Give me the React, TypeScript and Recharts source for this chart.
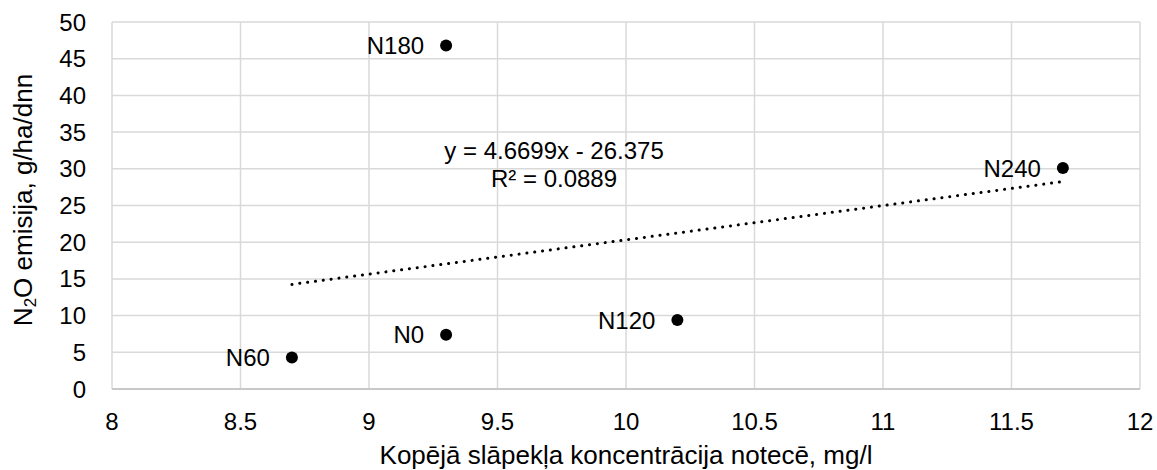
import React from 'react';
import {
  ScatterChart,
  Scatter,
  XAxis,
  YAxis,
  CartesianGrid,
  ReferenceDot
} from 'recharts';

// treatment labels, N concentration (mg/l) and N2O emission (g/ha/day)
const treatments = ['N0', 'N60', 'N120', 'N180', 'N240'];
const concentration = [9.3, 8.7, 10.2, 9.3, 11.7];
const emission = [7.4, 4.3, 9.4, 46.8, 30.1];

// linear trend endpoints
const trendX = [8.7, 11.7];
const trendY = [14.25, 28.26];

const xTicks = [8, 8.5, 9, 9.5, 10, 10.5, 11, 11.5, 12];
const yTicks = [0, 5, 10, 15, 20, 25, 30, 35, 40, 45, 50];

const equationText = 'y = 4.6699x - 26.375';
const rSquaredText = 'R² = 0.0889';

const points = treatments.map((name, i) => ({
  name,
  x: concentration[i],
  y: emission[i]
}));

const trend = trendX.map((x, i) => ({ x, y: trendY[i] }));

const FONT = '"Liberation Sans", Arial, sans-serif';
const FS = 24;
const TITLE_FS = 26;

const PointShape = (props: any) => {
  const { cx, cy, payload } = props;
  return (
    <g>
      <circle cx={cx} cy={cy} r={6} fill="#000" />
      <text
        x={cx - 22}
        y={cy}
        textAnchor="end"
        dominantBaseline="central"
        fontFamily={FONT}
        fontSize={FS}
        fill="#000"
      >
        {payload.name}
      </text>
    </g>
  );
};

const App: React.FC = () => {
  return (
    <div style={{ position: 'absolute', left: 0, top: 0, background: '#fff' }}>
      <ScatterChart
        width={1157}
        height={470}
        margin={{ top: 22, right: 17, left: 0, bottom: 0 }}
      >
        <CartesianGrid stroke="#d9d9d9" strokeWidth={1.5} />
        <XAxis
          type="number"
          dataKey="x"
          domain={[8, 12]}
          ticks={xTicks}
          height={81}
          axisLine={{ stroke: '#bfbfbf', strokeWidth: 1.5 }}
          tickLine={false}
          tick={{ fill: '#000', fontSize: FS, fontFamily: FONT }}
          tickMargin={18}
          label={(p: any) => {
            const vb = p.viewBox;
            return (
              <text
                x={vb.x + vb.width / 2}
                y={455}
                textAnchor="middle"
                dominantBaseline="central"
                fontFamily={FONT}
                fontSize={TITLE_FS}
                fill="#000"
              >
                Kopējā slāpekļa koncentrācija notecē, mg/l
              </text>
            );
          }}
        />
        <YAxis
          type="number"
          dataKey="y"
          domain={[0, 50]}
          ticks={yTicks}
          width={112}
          axisLine={false}
          tickLine={false}
          tick={{ fill: '#000', fontSize: FS, fontFamily: FONT }}
          tickMargin={20}
          label={() => (
            <text
              x={23}
              y={200}
              transform="rotate(-90, 23, 200)"
              textAnchor="middle"
              dominantBaseline="central"
              fontFamily={FONT}
              fontSize={TITLE_FS}
              fill="#000"
            >
              N
              <tspan fontSize={17} dy={7}>2</tspan>
              <tspan dy={-7}>O emisija, g/ha/dnn</tspan>
            </text>
          )}
        />
        <Scatter
          data={trend}
          line={{ stroke: '#000', strokeWidth: 3, strokeDasharray: '0.1 7.8', strokeLinecap: 'round' }}
          shape={() => <g />}
          isAnimationActive={false}
        />
        <Scatter data={points} shape={PointShape} isAnimationActive={false} />
        <ReferenceDot
          x={9.72}
          y={30.6}
          r={0}
          stroke="none"
          fill="none"
          label={(p: any) => {
            const vb = p.viewBox;
            const cx = vb.x + (vb.width || 0) / 2;
            const cy = vb.y + (vb.height || 0) / 2;
            return (
              <text textAnchor="middle" fontFamily={FONT} fontSize={FS} fill="#000">
                <tspan x={cx} y={cy - 14} dominantBaseline="central">{equationText}</tspan>
                <tspan x={cx} y={cy + 14} dominantBaseline="central">{rSquaredText}</tspan>
              </text>
            );
          }}
        />
      </ScatterChart>
    </div>
  );
};

export default App;
